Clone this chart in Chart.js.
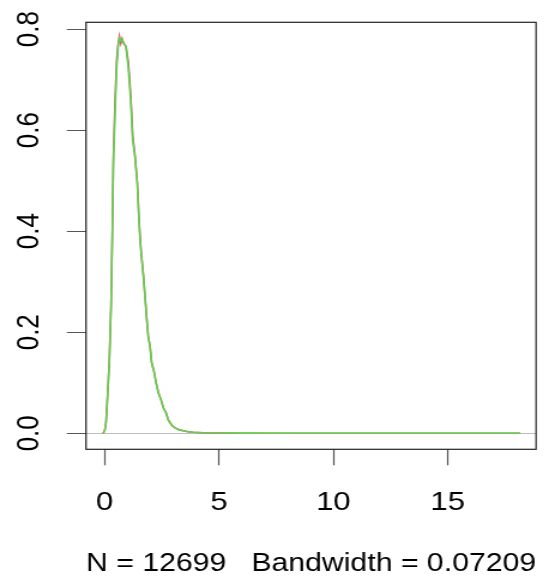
<!DOCTYPE html>
<html><head><meta charset="utf-8">
<script src="https://cdn.jsdelivr.net/npm/chart.js@4/dist/chart.umd.min.js"></script>
<style>
html,body{margin:0;padding:0;background:#fff;overflow:hidden}
#wrap{position:absolute;left:0;top:0;width:458px;height:578px;transform:scaleX(1.19869);transform-origin:0 0}
</style></head><body>
<div id="wrap"><canvas id="c"></canvas></div>
<script>
// ---- data ----
const xTickValues = [0, 5, 10, 15];
const yTickValues = [0, 0.2, 0.4, 0.6, 0.8];
const densityX = [-0.08, -0.05, 0.02, 0.066, 0.122, 0.21, 0.284, 0.34, 0.385, 0.46, 0.53, 0.6, 0.65, 0.71, 0.765, 0.82, 0.9, 0.94, 1.04, 1.145, 1.23, 1.33, 1.43, 1.49, 1.54, 1.6, 1.7, 1.77, 1.84, 1.91, 1.99, 2.06, 2.16, 2.25, 2.35, 2.47, 2.57, 2.69, 2.79, 2.94, 3.08, 3.25, 3.44, 3.65, 3.88, 4.3, 5, 6, 8, 10, 12, 14, 16, 18.17];
const densityRed = [0, 0.0006, 0.008, 0.023, 0.067, 0.143, 0.255, 0.402, 0.545, 0.66, 0.74, 0.772, 0.786, 0.772, 0.781, 0.774, 0.768, 0.765, 0.735, 0.668, 0.59, 0.55, 0.497, 0.44, 0.397, 0.359, 0.312, 0.271, 0.229, 0.192, 0.172, 0.14, 0.123, 0.101, 0.081, 0.066, 0.051, 0.04, 0.026, 0.016, 0.0105, 0.007, 0.005, 0.003, 0.002, 0.001, 0.0005, 0.0003, 0.0002, 0.0001, 0.0001, 0.0001, 0.0001, 0];
const densityGreen = [0, 0.0006, 0.008, 0.022, 0.066, 0.141, 0.25, 0.396, 0.535, 0.636, 0.725, 0.768, 0.782, 0.777, 0.78, 0.773, 0.768, 0.764, 0.723, 0.659, 0.58, 0.547, 0.495, 0.436, 0.395, 0.357, 0.31, 0.27, 0.228, 0.191, 0.171, 0.139, 0.122, 0.1, 0.08, 0.066, 0.05, 0.04, 0.026, 0.016, 0.0105, 0.007, 0.005, 0.003, 0.002, 0.001, 0.0005, 0.0003, 0.0002, 0.0001, 0.0001, 0.0001, 0.0001, 0];
const xLabel = "N = 12699   Bandwidth = 0.07209";

const FONT = {family: "'Liberation Sans', Arial, sans-serif", size: 26};

const boxPlugin = {
  id: 'box',
  afterDraw(c) {
    const {left, top, right, bottom} = c.chartArea;
    const g = c.ctx;
    g.save();
    g.strokeStyle = '#222';
    g.lineWidth = 1.2;
    g.strokeRect(left, top, right - left, bottom - top);
    g.restore();
  }
};

new Chart(document.getElementById('c'), {
  type: 'line',
  data: {
    datasets: [
      {data: densityX.map((x, i) => ({x, y: densityRed[i]})), borderColor: '#DF536B', borderWidth: 1.5, pointRadius: 0, fill: false, tension: 0, order: 2},
      {data: densityX.map((x, i) => ({x, y: densityGreen[i]})), borderColor: '#61D04F', borderWidth: 1.6, pointRadius: 0, fill: false, tension: 0, order: 1}
    ]
  },
  options: {
    responsive: true, maintainAspectRatio: false, animation: false, events: [],
    layout: {padding: {top: 22.3, right: 10.8, bottom: 0, left: 0}},
    plugins: {legend: {display: false}, tooltip: {enabled: false}},
    scales: {
      x: {
        type: 'linear', min: -0.81, max: 18.86,
        afterBuildTicks: s => { s.ticks = xTickValues.map(v => ({value: v})); },
        afterFit: s => { s.height = 128.7; s.paddingLeft = 0; s.paddingRight = 0; },
        grid: {drawOnChartArea: false, drawTicks: true, tickLength: 16, tickColor: '#555', tickWidth: 1.2},
        border: {display: false},
        ticks: {font: FONT, color: '#000', padding: 22, maxRotation: 0, minRotation: 0, autoSkip: false},
        title: {display: true, text: xLabel, font: {family: FONT.family, size: 26.6}, color: '#000', padding: {top: 0, bottom: -1.6}}
      },
      y: {
        type: 'linear', min: -0.0317, max: 0.8135,
        afterBuildTicks: s => { s.ticks = yTickValues.map(v => ({value: v})); },
        afterFit: s => { s.width = 71.75; s.paddingTop = 0; s.paddingBottom = 0; },
        grid: {
          drawOnChartArea: true, drawTicks: true, tickLength: 16, tickColor: '#555', tickWidth: 1,
          color: ctx => (ctx.tick && ctx.tick.value === 0) ? '#BEBEBE' : 'rgba(0,0,0,0)', lineWidth: 1
        },
        border: {display: false},
        ticks: {font: FONT, color: '#000', padding: 12.7, minRotation: 90, maxRotation: 90, crossAlign: 'center', autoSkip: false,
          callback: v => Number(v).toFixed(1)}
      }
    }
  },
  plugins: [boxPlugin]
});
</script>
</body></html>
